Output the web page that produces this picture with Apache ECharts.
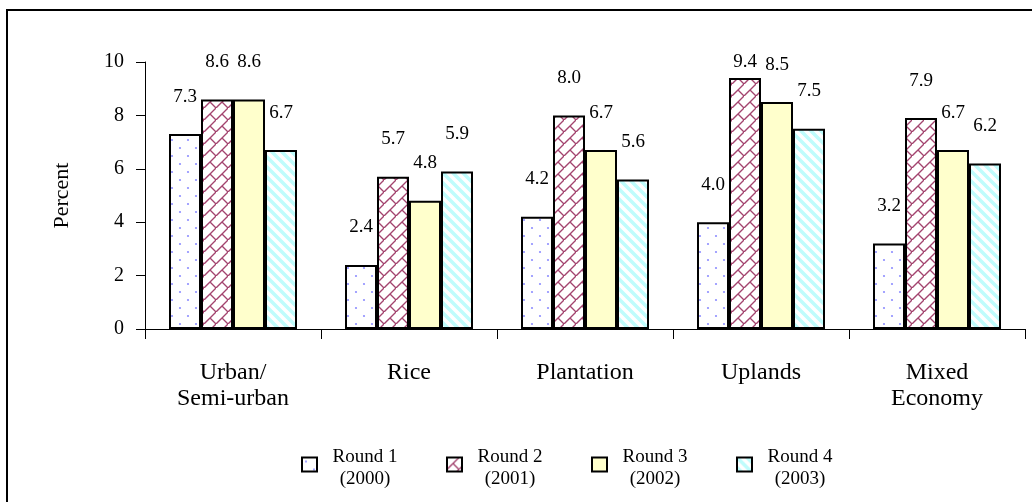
<!DOCTYPE html>
<html>
<head>
<meta charset="utf-8">
<script src="https://cdn.jsdelivr.net/npm/echarts@6/dist/echarts.min.js"></script>
<style>
    html, body { margin: 0; padding: 0; background: #fff; }
    #chart { width: 1032px; height: 502px; }
</style>
</head>
<body>
<div id="chart"></div>
<script>
//数据
var categories = ['Urban/\nSemi-urban', 'Rice', 'Plantation', 'Uplands', 'Mixed\nEconomy'];
var roundNames = ['Round 1 (2000)', 'Round 2 (2001)', 'Round 3 (2002)', 'Round 4 (2003)'];
var round1 = [7.3, 2.4, 4.2, 4.0, 3.2];
var round2 = [8.6, 5.7, 8.0, 9.4, 7.9];
var round3 = [8.6, 4.8, 6.7, 8.5, 6.7];
var round4 = [6.7, 5.9, 5.6, 7.5, 6.2];
var yTicks = [0, 2, 4, 6, 8, 10];

var serif = "'Liberation Serif', 'Times New Roman', serif";

//填充图案
function makeTile(size, draw) {
    var c = document.createElement('canvas');
    c.width = size;
    c.height = size;
    var ctx = c.getContext('2d');
    ctx.fillStyle = '#ffffff';
    ctx.fillRect(0, 0, size, size);
    draw(ctx, size);
    return { image: c, repeat: 'repeat' };
}

var dotFill = makeTile(16, function (ctx) {
    ctx.fillStyle = '#8f8fff';
    ctx.beginPath(); ctx.arc(4, 4, 1.1, 0, Math.PI * 2); ctx.fill();
    ctx.beginPath(); ctx.arc(12, 12, 1.1, 0, Math.PI * 2); ctx.fill();
});

var brickFill = makeTile(12, function (ctx, s) {
    ctx.strokeStyle = '#a3446f';
    ctx.lineWidth = 1.4;
    ctx.beginPath();
    ctx.moveTo(-1, s + 1); ctx.lineTo(s + 1, -1);
    ctx.moveTo(s / 2, s / 2); ctx.lineTo(s + 1, s + 1);
    ctx.moveTo(-1, -1); ctx.lineTo(0, 0);
    ctx.stroke();
});

var stripeFill = makeTile(10, function (ctx, s) {
    ctx.strokeStyle = '#bffcfc';
    ctx.lineWidth = 3.5;
    ctx.beginPath();
    ctx.moveTo(-s, -s); ctx.lineTo(2 * s, 2 * s);
    ctx.moveTo(-s, 0); ctx.lineTo(s, 2 * s);
    ctx.moveTo(0, -s); ctx.lineTo(2 * s, s);
    ctx.stroke();
});

var fills = [dotFill, brickFill, '#ffffcc', stripeFill];
var values = [round1, round2, round3, round4];

function makeSeries(i) {
    return {
        name: roundNames[i],
        type: 'bar',
        data: values[i],
        barWidth: 32,
        barGap: '0%',
        itemStyle: {
            color: fills[i],
            borderColor: '#000',
            borderWidth: 2
        },
        label: {
            show: true,
            position: 'top',
            distance: 28,
            color: '#000',
            fontFamily: serif,
            fontSize: 19,
            formatter: function (p) { return p.value.toFixed(1); }
        },
        //标签不超出绘图区顶部
        labelLayout: function (p) {
            var r = p.labelRect;
            return {
                x: r.x + r.width / 2,
                y: Math.max(r.y, 53),
                align: 'center',
                verticalAlign: 'top'
            };
        }
    };
}

var chart = echarts.init(document.getElementById('chart'));
chart.setOption({
    animation: false,
    backgroundColor: '#fff',
    graphic: [{
        type: 'rect',
        shape: { x: 7, y: 10, width: 1040, height: 500 },
        style: { fill: 'none', stroke: '#000', lineWidth: 2 },
        silent: true
    }],
    grid: {
        left: 145,
        top: 62,
        width: 880,
        height: 267
    },
    legend: {
        left: 296,
        top: 443,
        itemWidth: 15,
        itemHeight: 22,
        itemGap: 38,
        icon: 'path://M0,0H15V14H0Z M0,22',
        itemStyle: { borderColor: '#000', borderWidth: 2 },
        data: roundNames,
        formatter: function (name) {
            var parts = name.split(' (');
            return '{a|' + parts[0] + '}\n{a|(' + parts[1] + '}';
        },
        textStyle: {
            rich: {
                a: {
                    width: 86,
                    align: 'center',
                    fontFamily: serif,
                    fontSize: 19,
                    lineHeight: 22,
                    color: '#000'
                }
            }
        }
    },
    xAxis: {
        type: 'category',
        data: categories,
        axisLine: { lineStyle: { color: '#000', width: 1 } },
        axisTick: { show: true, interval: 0, length: 10, lineStyle: { color: '#000' } },
        axisLabel: {
            interval: 0,
            margin: 31,
            color: '#000',
            fontFamily: serif,
            fontSize: 24,
            lineHeight: 26
        }
    },
    yAxis: {
        type: 'value',
        min: yTicks[0],
        max: yTicks[yTicks.length - 1],
        interval: yTicks[1] - yTicks[0],
        name: 'Percent',
        nameLocation: 'middle',
        nameGap: 72,
        nameTextStyle: { color: '#000', fontFamily: serif, fontSize: 22 },
        axisLine: { show: true, lineStyle: { color: '#000', width: 1 } },
        axisTick: { show: true, length: 9, lineStyle: { color: '#000' } },
        splitLine: { show: false },
        axisLabel: {
            margin: 21,
            color: '#000',
            fontFamily: serif,
            fontSize: 20
        }
    },
    series: [makeSeries(0), makeSeries(1), makeSeries(2), makeSeries(3)]
});
</script>
</body>
</html>
